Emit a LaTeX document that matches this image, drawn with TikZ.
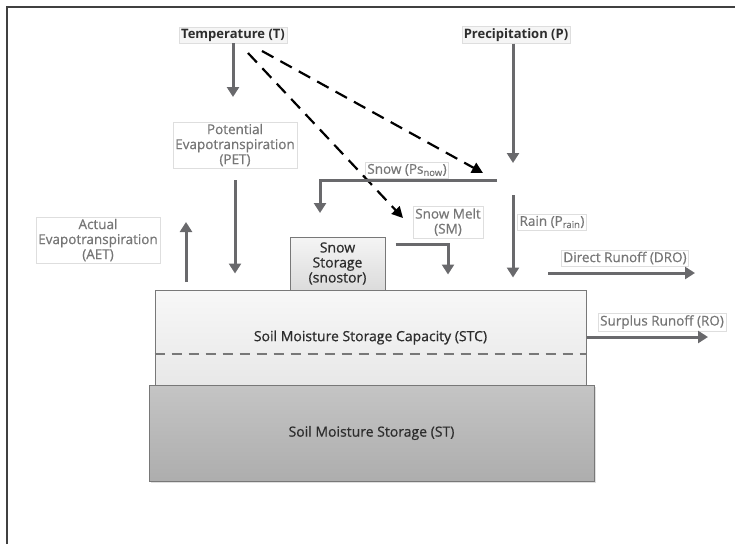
\documentclass[tikz,border=0pt]{standalone}
\usepackage{fontspec}
\setmainfont{Open Sans}
\newfontfamily\semibold{Open Sans}[FakeBold=0.7]
\usetikzlibrary{positioning, arrows.meta, shadows}
\definecolor{flowgrey}{RGB}{105,105,108}
\definecolor{labelgrey}{RGB}{118,118,118}
\definecolor{faintline}{RGB}{222,222,222}
\definecolor{darktext}{RGB}{45,45,45}
\definecolor{soilline}{RGB}{120,120,120}

\tikzset{
    flow/.style={draw=flowgrey, line width=3pt, -{Triangle[length=10pt, width=12pt]}},
    tempflow/.style={draw=black, line width=2.2pt, dash pattern=on 13pt off 8pt,
                     -{Triangle[length=11pt, width=11pt]}},
    flowlabel/.style={draw=faintline, text=labelgrey, align=center, inner sep=2pt,
                      font=\semibold\fontsize{13.5}{15}\selectfont},
    source/.style={draw=faintline, fill=black!4, text=darktext, inner sep=2pt,
                   font=\bfseries\fontsize{13}{15}\selectfont},
    storebox/.style={draw=soilline, line width=1pt, text=darktext, align=center,
                     font=\semibold\fontsize{14}{15}\selectfont},
    capline/.style={draw=soilline, line width=1.3pt, dash pattern=on 10pt off 7pt},
}

\begin{document}
\begin{tikzpicture}[x=1pt, y=-1pt]
        \useasboundingbox (0,0) rectangle (735,544);
        % page frame
        \draw[black!75, line width=1.4pt] (7,544) -- (7,7) -- (735,7);

        % drivers
        \node[source] (temp) at (233,35) {Temperature (T)};
        \node[source] (precip) at (516,35) {Precipitation (P)};

        % storages
        \node[storebox, minimum width=431pt, minimum height=95pt,
              top color=black!3, bottom color=black!9] (stc) at (370.5,337.5)
              {Soil Moisture Storage Capacity (STC)};
        \node[storebox, minimum width=445pt, minimum height=96pt,
              top color=black!23, bottom color=black!32,
              drop shadow={shadow xshift=1.5pt, shadow yshift=-1.5pt, opacity=0.25}]
              (st) at (371.5,433) {Soil Moisture Storage (ST)};
        \node[storebox, minimum width=95pt, minimum height=53pt,
              top color=black!4, bottom color=black!14] (snostor) at (337.5,263.5)
              {Snow\\Storage\\(snostor)};

        % fluxes
        \node[flowlabel] (pet) at (235,145) {Potential\\Evapotranspiration\\(PET)};
        \node[flowlabel] (aet) at (98,240) {Actual\\Evapotranspiration\\(AET)};
        \node[flowlabel] (snow) at (407,170) {Snow (Ps\textsubscript{now})};
        \node[flowlabel] (melt) at (448,222) {Snow Melt\\(SM)};
        \node[flowlabel] (rain) at (552,222) {Rain (P\textsubscript{rain})};
        \node[flowlabel] (dro) at (625,258) {Direct Runoff (DRO)};
        \node[flowlabel] (ro) at (662,322) {Surplus Runoff (RO)};

        \coordinate (petin) at (233,97);
        \coordinate (aettip) at (186,222);
        \coordinate (aetfoot) at (186,282);
        \coordinate (meltfrom) at (248,53);
        \coordinate (snowfrom) at (262,51);
        \coordinate (snowsplit) at (483,173);
        \coordinate (snowright) at (497,180);
        \coordinate (snowtip) at (320,213);
        \coordinate (ptip) at (513,163);
        \coordinate (raintop) at (513,195);
        \coordinate (meltbend) at (448,244);
        \coordinate (droin) at (548,273);
        \coordinate (droout) at (695,273);
        \coordinate (roout) at (708,337);
        \coordinate (fieldcap) at (370,354);

        \draw[capline] (stc.west |- fieldcap) -- (stc.east |- fieldcap);

        \draw[flow] (temp) -- (petin);
        \draw[flow, shorten <=12pt, shorten >=16pt] (pet) -- (pet |- stc.north);
        \draw[flow] (aetfoot) -- (aettip);
        \draw[tempflow] (meltfrom) -- (403,218);
        \draw[tempflow] (snowfrom) -- (snowsplit);
        \draw[flow] (snowright) -- (snowright -| snowtip) -- (snowtip);
        \draw[flow] (precip.south -| ptip) -- (ptip);
        \draw[flow, shorten >=12pt] (raintop) -- (raintop |- stc.north);
        \draw[flow, shorten <=10pt, shorten >=15pt] (snostor.east |- meltbend) -- (meltbend)
              -- (meltbend |- stc.north);
        \draw[flow] (droin) -- (droout);
        \draw[flow] (stc.east |- roout) -- (roout);
\end{tikzpicture}
\end{document}
